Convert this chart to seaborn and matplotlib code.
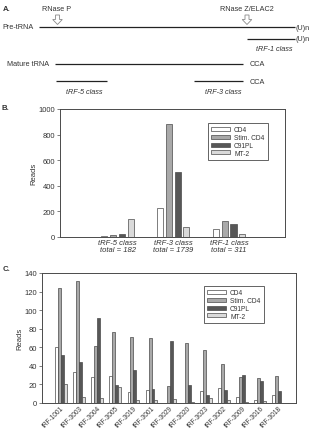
import matplotlib
matplotlib.use("Agg")
import matplotlib.pyplot as plt
import seaborn as sns
import pandas as pd
from matplotlib.patches import Polygon

# ---------------- data ----------------
series = ["CD4", "Stim. CD4", "C91PL", "MT-2"]
colors = ["#ffffff", "#a9a9a9", "#575757", "#dadada"]

class_labels = ["tRF-5 class\ntotal = 182", "tRF-3 class\ntotal = 1739", "tRF-1 class\ntotal = 311"]
class_cd4 = [5, 224, 62]
class_stim = [14, 880, 125]
class_c91 = [26, 508, 99]
class_mt2 = [137, 75, 23]

trf_labels = ["tRF-1001", "tRF-3003", "tRF-3004", "tRF-3005", "tRF-3019", "tRF-3001",
              "tRF-3029", "tRF-3020", "tRF-3023", "tRF-3002", "tRF-3009", "tRF-3016", "tRF-3018"]
trf_cd4 = [60, 33, 28, 29, 12, 14, 0, 0, 13, 16, 6, 3, 9]
trf_stim = [124, 131, 61, 77, 71, 70, 18, 65, 57, 42, 28, 27, 29]
trf_c91 = [52, 44, 92, 19, 36, 15, 67, 19, 9, 14, 30, 24, 13]
trf_mt2 = [20, 7, 5, 17, 3, 3, 4, 1, 5, 3, 1, 2, 0]


def long_form(labels, cols):
    rows = []
    for i, lab in enumerate(labels):
        for s, vals in zip(series, cols):
            rows.append({"group": lab, "series": s, "reads": vals[i]})
    return pd.DataFrame(rows)


dfB = long_form(class_labels, [class_cd4, class_stim, class_c91, class_mt2])
dfC = long_form(trf_labels, [trf_cd4, trf_stim, trf_c91, trf_mt2])

sns.set_style("white")
plt.rcParams["font.family"] = ["Liberation Sans", "DejaVu Sans"]
TXT = "#333333"
EDGE = "#4a4a4a"

W, H = 313, 431
fig = plt.figure(figsize=(W / 100, H / 100), dpi=100)

# ---------------- panel A (diagram, pixel coordinates) ----------------
axA = fig.add_axes([0, 0, 1, 1], zorder=0)
axA.set_xlim(0, W)
axA.set_ylim(H, 0)
axA.axis("off")
axA.patch.set_alpha(0)

fs_a = 5.2
lw = 0.9
lc = "#222222"


def hline(x0, x1, y):
    axA.plot([x0, x1], [y, y], color=lc, lw=lw, solid_capstyle="butt")


def txt(x, y, s, ha="left", style="normal", weight="normal", size=fs_a):
    axA.text(x, y, s, ha=ha, va="center", fontsize=size, color=TXT,
             fontstyle=style, fontweight=weight)


def down_arrow(cx, top, bottom):
    sw, hw, hy = 2.0, 4.8, top + 4.5
    pts = [(cx - sw, top), (cx + sw, top), (cx + sw, hy), (cx + hw, hy),
           (cx, bottom), (cx - hw, hy), (cx - sw, hy)]
    axA.add_patch(Polygon(pts, closed=True, facecolor="white",
                          edgecolor="#8a8a8a", lw=0.6))


txt(3, 9.5, "A.", weight="bold", size=5.6)
txt(42, 9.5, "RNase P")
txt(220, 9.5, "RNase Z/ELAC2")
down_arrow(57.5, 16, 25.5)
down_arrow(247, 16, 25.5)

txt(2, 27.5, "Pre-tRNA")
hline(39, 295, 28)
txt(296, 28, "(U)n")
hline(247, 295, 39.5)
txt(296, 39.5, "(U)n")
txt(274.5, 49.5, "tRF-1 class", ha="center", style="italic")

txt(7, 65, "Mature tRNA")
hline(55, 243, 65)
txt(250, 65, "CCA")
hline(56, 107, 82)
hline(194, 243, 82)
txt(250, 82, "CCA")
txt(84, 92.5, "tRF-5 class", ha="center", style="italic")
txt(223, 92.5, "tRF-3 class", ha="center", style="italic")

txt(2, 109, "B.", weight="bold", size=5.6)
txt(3, 270, "C.", weight="bold", size=5.6)


def style_axes(ax):
    for sp in ax.spines.values():
        sp.set_color(EDGE)
        sp.set_linewidth(0.7)
    ax.tick_params(axis="y", direction="out", length=2, width=0.5,
                   color=EDGE, labelsize=5.5, labelcolor=TXT, pad=1.5, left=True)
    ax.tick_params(axis="x", length=0, labelcolor=TXT)
    ax.set_xlabel("")
    ax.set_ylabel("Reads", fontsize=5.5, color=TXT, labelpad=1)


def legend(ax, anchor):
    handles, labels = ax.get_legend_handles_labels()
    leg = ax.legend(handles, labels, loc="upper left", bbox_to_anchor=anchor,
                    fontsize=4.8, frameon=True, fancybox=False, edgecolor=EDGE,
                    framealpha=1, handlelength=2.8, handleheight=0.55,
                    labelspacing=0.12, borderpad=0.5, handletextpad=0.6,
                    borderaxespad=0)
    leg.get_frame().set_linewidth(0.6)
    for t in leg.get_texts():
        t.set_color(TXT)


# ---------------- panel B ----------------
axB = fig.add_axes([60 / W, 1 - 238 / H, 225 / W, 128 / H], zorder=1)
sns.barplot(data=dfB, x="group", y="reads", hue="series", order=class_labels,
            hue_order=series, palette=colors, saturation=1, edgecolor=EDGE,
            linewidth=0.5, width=0.625, gap=0.3, ax=axB)
axB.set_ylim(0, 1000)
axB.set_yticks(range(0, 1001, 200))
axB.set_xlim(-1.03, 3.0)
style_axes(axB)
for t in axB.get_xticklabels():
    t.set_fontstyle("italic")
    t.set_fontsize(5.5)
    t.set_linespacing(1.05)
axB.tick_params(axis="x", pad=1.5)
legend(axB, (0.658, 0.89))

# ---------------- panel C ----------------
axC = fig.add_axes([42 / W, 1 - 404 / H, 254 / W, 130 / H], zorder=1)
sns.barplot(data=dfC, x="group", y="reads", hue="series", order=trf_labels,
            hue_order=series, palette=colors, saturation=1, edgecolor=EDGE,
            linewidth=0.5, width=0.65, gap=0, ax=axC)
axC.set_ylim(0, 140)
axC.set_yticks(range(0, 141, 20))
axC.set_xlim(-1.05, 12.98)
style_axes(axC)
for t in axC.get_xticklabels():
    t.set_rotation(45)
    t.set_ha("right")
    t.set_rotation_mode("anchor")
    t.set_fontsize(4.7)
axC.tick_params(axis="x", pad=1)
legend(axC, (0.638, 0.9))

fig.savefig("out.png", dpi=100)
